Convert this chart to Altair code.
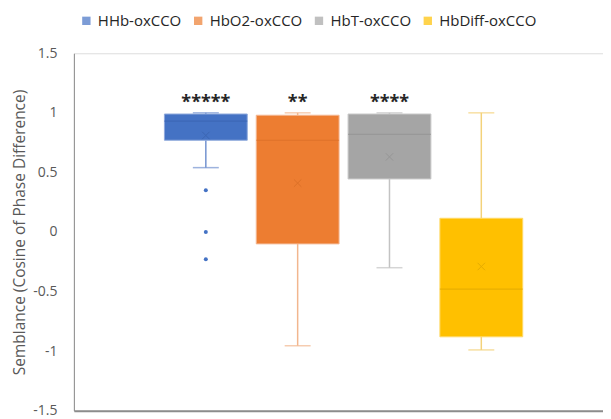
import altair as alt
import pandas as pd

# ---- data ----
groups = ["HHb-oxCCO", "HbO2-oxCCO", "HbT-oxCCO", "HbDiff-oxCCO"]
whisker_low = [0.54, -0.955, -0.30, -0.99]
q1 = [0.77, -0.10, 0.445, -0.88]
median = [0.93, 0.77, 0.82, -0.48]
q3 = [0.99, 0.98, 0.99, 0.115]
whisker_high = [1.0, 1.0, 1.0, 1.0]
mean = [0.81, 0.41, 0.63, -0.29]
outlier_group = ["HHb-oxCCO", "HHb-oxCCO", "HHb-oxCCO"]
outlier_value = [0.35, 0.0, -0.23]
stars = ["*****", "**", "****", ""]
y_ticks = [-1.5, -1, -0.5, 0, 0.5, 1, 1.5]

# ---- styles ----
fill_colors = ["#4472C4", "#ED7D31", "#A5A5A5", "#FFC000"]
whisker_colors = ["#7393D0", "#F2B68E", "#C3C3C3", "#F3D27A"]
median_colors = ["#3A64B0", "#D96E26", "#939393", "#E0A800"]
edge_colors = ["#8FA9DC", "#F4B894", "#C9C9C9", "#FFD966"]
FONT = "Open Sans"

df = pd.DataFrame({
    "group": groups, "lo": whisker_low, "q1": q1, "med": median,
    "q3": q3, "hi": whisker_high, "mean": mean, "stars": stars,
})
df["wcol"] = whisker_colors
df["mcol"] = median_colors
df["ecol"] = edge_colors
out_df = pd.DataFrame({"group": outlier_group, "v": outlier_value})

x = alt.X("group:N", sort=groups, axis=alt.Axis(labels=False, ticks=False, title=None,
          domainColor="#8C8C8C", domainWidth=2),
          scale=alt.Scale(paddingInner=0.098, paddingOuter=0.93, align=0.53))
yscale = alt.Scale(domain=[-1.5, 1.5])
yaxis = alt.Axis(values=y_ticks, grid=False, ticks=False,
                 labelExpr="'' + datum.value",
                 domainColor="#8C8C8C", labelFont=FONT, labelFontSize=14,
                 labelColor="#595959", labelPadding=17, titleFont=FONT,
                 titleFontSize=15.5, titleFontWeight="normal", titleColor="#595959",
                 titlePadding=5, title="Semblance (Cosine of Phase Difference)")

color = alt.Color("group:N", sort=groups,
                  scale=alt.Scale(domain=groups, range=fill_colors),
                  legend=alt.Legend(title=None, orient="none", direction="horizontal",
                                    legendX=5, legendY=-40, symbolType="square",
                                    symbolSize=70, symbolStrokeWidth=0, gridAlign="none",
                                    labelFont=FONT, labelFontSize=15, labelColor="#262626",
                                    columnPadding=9, labelOffset=4))

base = alt.Chart(df)

whisk_up = base.mark_rule(strokeWidth=1.5).encode(
    x=x, y=alt.Y("q3:Q", scale=yscale, axis=yaxis), y2="hi:Q",
    color=alt.Color("wcol:N", scale=None))
whisk_dn = base.mark_rule(strokeWidth=1.5).encode(
    x=x, y=alt.Y("lo:Q", scale=yscale), y2="q1:Q",
    color=alt.Color("wcol:N", scale=None))
cap_hi = base.mark_tick(size=26, thickness=1.5).encode(
    x=x, y=alt.Y("hi:Q", scale=yscale), color=alt.Color("wcol:N", scale=None))
cap_lo = base.mark_tick(size=26, thickness=1.5).encode(
    x=x, y=alt.Y("lo:Q", scale=yscale), color=alt.Color("wcol:N", scale=None))
boxes = base.mark_bar(strokeWidth=1).encode(
    x=x, y=alt.Y("q1:Q", scale=yscale), y2="q3:Q", color=color,
    stroke=alt.Stroke("ecol:N", scale=None))
med = base.mark_tick(size=83, thickness=1.2).encode(
    x=x, y=alt.Y("med:Q", scale=yscale), color=alt.Color("mcol:N", scale=None))
mean_pt = base.mark_point(shape="M-1,-1L1,1M1,-1L-1,1", size=55, filled=False,
                          strokeWidth=1, opacity=0.8).encode(
    x=x, y=alt.Y("mean:Q", scale=yscale), color=alt.Color("mcol:N", scale=None))
star_txt = base.mark_text(font=FONT, fontSize=18, fontWeight="bold", dy=-10,
                          color="#262626").encode(
    x=x, y=alt.Y("hi:Q", scale=yscale), text="stars:N")
outl = alt.Chart(out_df).mark_circle(size=16, opacity=1, color="#4472C4").encode(
    x=x, y=alt.Y("v:Q", scale=yscale))

chart = alt.layer(whisk_up, whisk_dn, cap_hi, cap_lo, boxes, med, mean_pt, star_txt, outl).properties(
    width=530, height=358,
    padding={"left": 4, "top": 5, "right": 0, "bottom": 2},
).configure_view(stroke=None).configure(background="white")

chart.save("out.html", embed_options={"renderer": "svg", "actions": False})
